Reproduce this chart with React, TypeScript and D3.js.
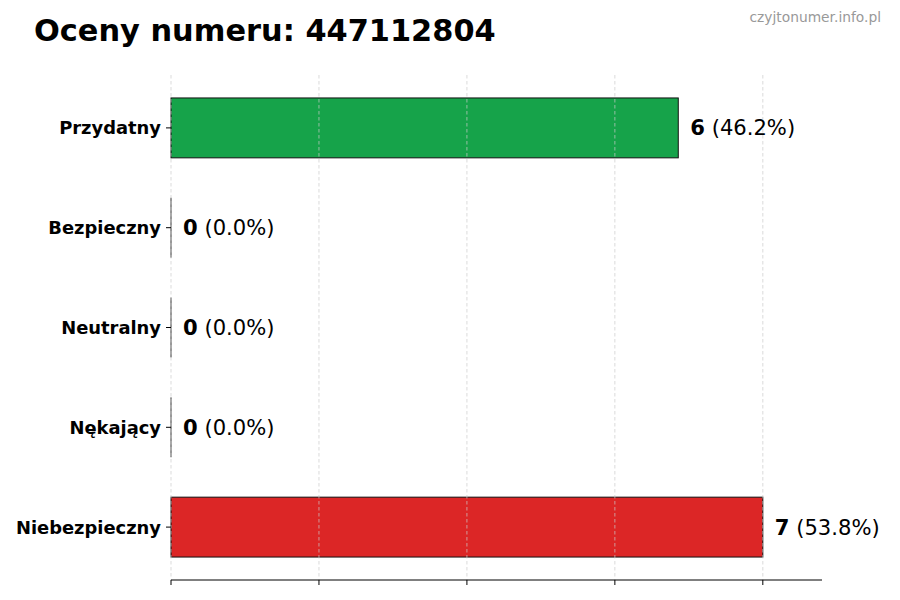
import React from "react";
import * as d3 from "d3";

const categories = ["Przydatny", "Bezpieczny", "Neutralny", "Nękający", "Niebezpieczny"];
const counts = [6, 0, 0, 0, 7];
const percents = ["46.2%", "0.0%", "0.0%", "0.0%", "53.8%"];
const colors = ["#16a34a", "#16a34a", "#9ca3af", "#f97316", "#dc2626"];
const xTicks = [0, 1.75, 3.5, 5.25, 7];

const W = 900;
const H = 600;
const left = 171;
const right = 822;
const top = 75;
const bottom = 580;
const font = "DejaVu Sans, sans-serif";

export default function App() {
  const xMax = d3.max(counts)! * 1.1;
  const x = d3.scaleLinear().domain([0, xMax]).range([left, right]);
  const y = d3
    .scaleBand<string>()
    .domain(categories)
    .range([top, bottom])
    .paddingInner(0.4)
    .paddingOuter(0.23);
  const bw = y.bandwidth();

  return (
    <svg width={W} height={H} style={{ position: "absolute", left: 0, top: 0, background: "#fff" }} fontFamily={font}>
      <text x={34} y={41} fontSize={30.4} fontWeight="bold" fill="#000">Oceny numeru: 447112804</text>
      <text x={881} y={22} fontSize={13.8} fill="#999" textAnchor="end">czyjtonumer.info.pl</text>

      {categories.map((c, i) =>
        counts[i] > 0 ? (
          <rect
            key={c}
            x={x(0)}
            y={y(c)!}
            width={x(counts[i]) - x(0)}
            height={bw}
            fill={colors[i]}
            stroke="#111"
            strokeWidth={1}
          />
        ) : (
          <line key={c} x1={x(0)} x2={x(0)} y1={y(c)!} y2={y(c)! + bw} stroke="#333" strokeWidth={1} />
        )
      )}

      {xTicks.map((t) => (
        <line key={"g" + t} x1={x(t)} x2={x(t)} y1={top} y2={bottom} stroke="#ccc" strokeWidth={0.7} strokeDasharray="3.5,2.5" />
      ))}

      <line x1={left} x2={right} y1={bottom} y2={bottom} stroke="#000" strokeWidth={1} />
      {xTicks.map((t) => (
        <line key={"t" + t} x1={x(t)} x2={x(t)} y1={bottom} y2={bottom + 5} stroke="#000" strokeWidth={1} />
      ))}

      {categories.map((c) => {
        const cy = y(c)! + bw / 2;
        return (
          <g key={"l" + c}>
            <line x1={left - 5} x2={left} y1={cy} y2={cy} stroke="#000" strokeWidth={1} />
            <text x={left - 10} y={cy} dy="0.36em" fontSize={17.9} fontWeight="bold" textAnchor="end" fill="#000">{c}</text>
          </g>
        );
      })}

      {categories.map((c, i) => {
        const cy = y(c)! + bw / 2;
        return (
          <text key={"v" + c} x={x(counts[i]) + 12} y={cy} dy="0.36em" fontSize={21.1} fill="#000">
            <tspan fontWeight="bold">{counts[i]}</tspan>
            <tspan> ({percents[i]})</tspan>
          </text>
        );
      })}
    </svg>
  );
}
